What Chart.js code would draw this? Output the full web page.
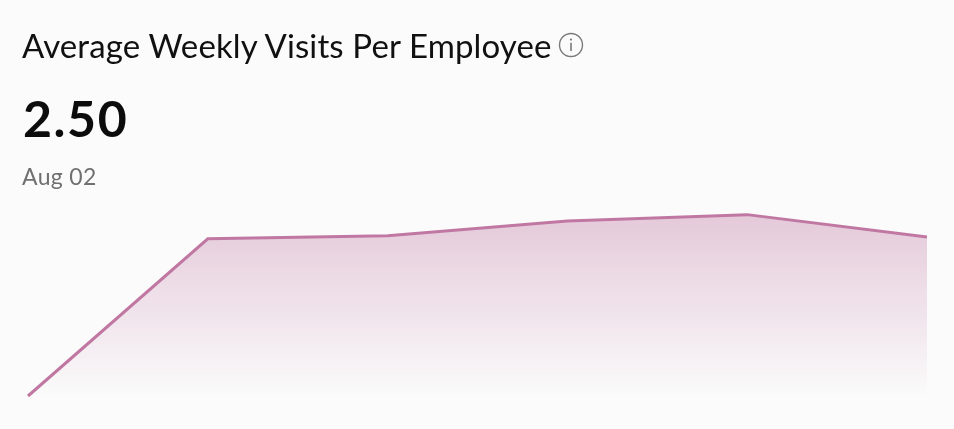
<!DOCTYPE html>
<html>
<head>
<meta charset="utf-8">
<title>Average Weekly Visits Per Employee</title>
<script src="https://cdn.jsdelivr.net/npm/chart.js@4"></script>
<style>
  html, body { margin: 0; padding: 0; width: 954px; height: 429px; background: #fbfbfb; overflow: hidden; }
  body { position: relative; font-family: Lato, sans-serif; }
  #chart { position: absolute; left: 0; top: 0; }
  .title { position: absolute; left: 22px; top: 24px; font-size: 33px; line-height: 42px; letter-spacing: 0.12px; color: #111; white-space: nowrap; }
  .value { position: absolute; left: 23px; top: 88px; font-size: 50px; line-height: 60px; letter-spacing: 1.6px; font-weight: 700; color: #0c0c0c; }
  .date { position: absolute; left: 22px; top: 162px; font-size: 23px; line-height: 28px; color: #707070; letter-spacing: 0.35px; }
  .info { position: absolute; left: 558px; top: 32px; }
</style>
</head>
<body>
<canvas id="chart" width="954" height="429"></canvas>
<div class="title">Average Weekly Visits Per Employee</div>
<svg class="info" width="26" height="26" viewBox="0 0 26 26">
  <circle cx="13" cy="13" r="11.5" fill="none" stroke="#7a7a7a" stroke-width="1.4"/>
  <circle cx="13" cy="7.6" r="1.1" fill="#7a7a7a"/>
  <rect x="12.2" y="10.8" width="1.6" height="8.2" fill="#7a7a7a"/>
</svg>
<div class="value">2.50</div>
<div class="date">Aug 02</div>
<script>
const weeks = ['Jun 28', 'Jul 05', 'Jul 12', 'Jul 19', 'Jul 26', 'Aug 02'];
const visits = [0, 2.47, 2.52, 2.75, 2.85, 2.50];

const el = document.getElementById('chart');

new Chart(el, {
    type: 'line',
    data: {
        labels: weeks,
        datasets: [{
            label: 'Average Weekly Visits Per Employee',
            data: visits,
            borderColor: '#c078a3',
            borderWidth: 3,
            pointRadius: 0,
            tension: 0,
            clip: false,
            fill: 'origin',
            backgroundColor(ctx) {
                const area = ctx.chart.chartArea;
                if (!area) return 'transparent';
                const g = ctx.chart.ctx.createLinearGradient(0, area.top + 14, 0, area.bottom);
                g.addColorStop(0, 'rgba(192, 120, 163, 0.38)');
                g.addColorStop(1, 'rgba(192, 120, 163, 0)');
                return g;
            },
        }],
    },
    options: {
        responsive: false,
        animation: false,
        layout: { padding: { left: 28, right: 27, top: 200, bottom: 33 } },
        plugins: { legend: { display: false }, tooltip: { enabled: false } },
        scales: {
            x: { display: false, offset: false },
            y: { display: false, min: 0, max: 3.08 },
        },
    },
});
</script>
</body>
</html>
